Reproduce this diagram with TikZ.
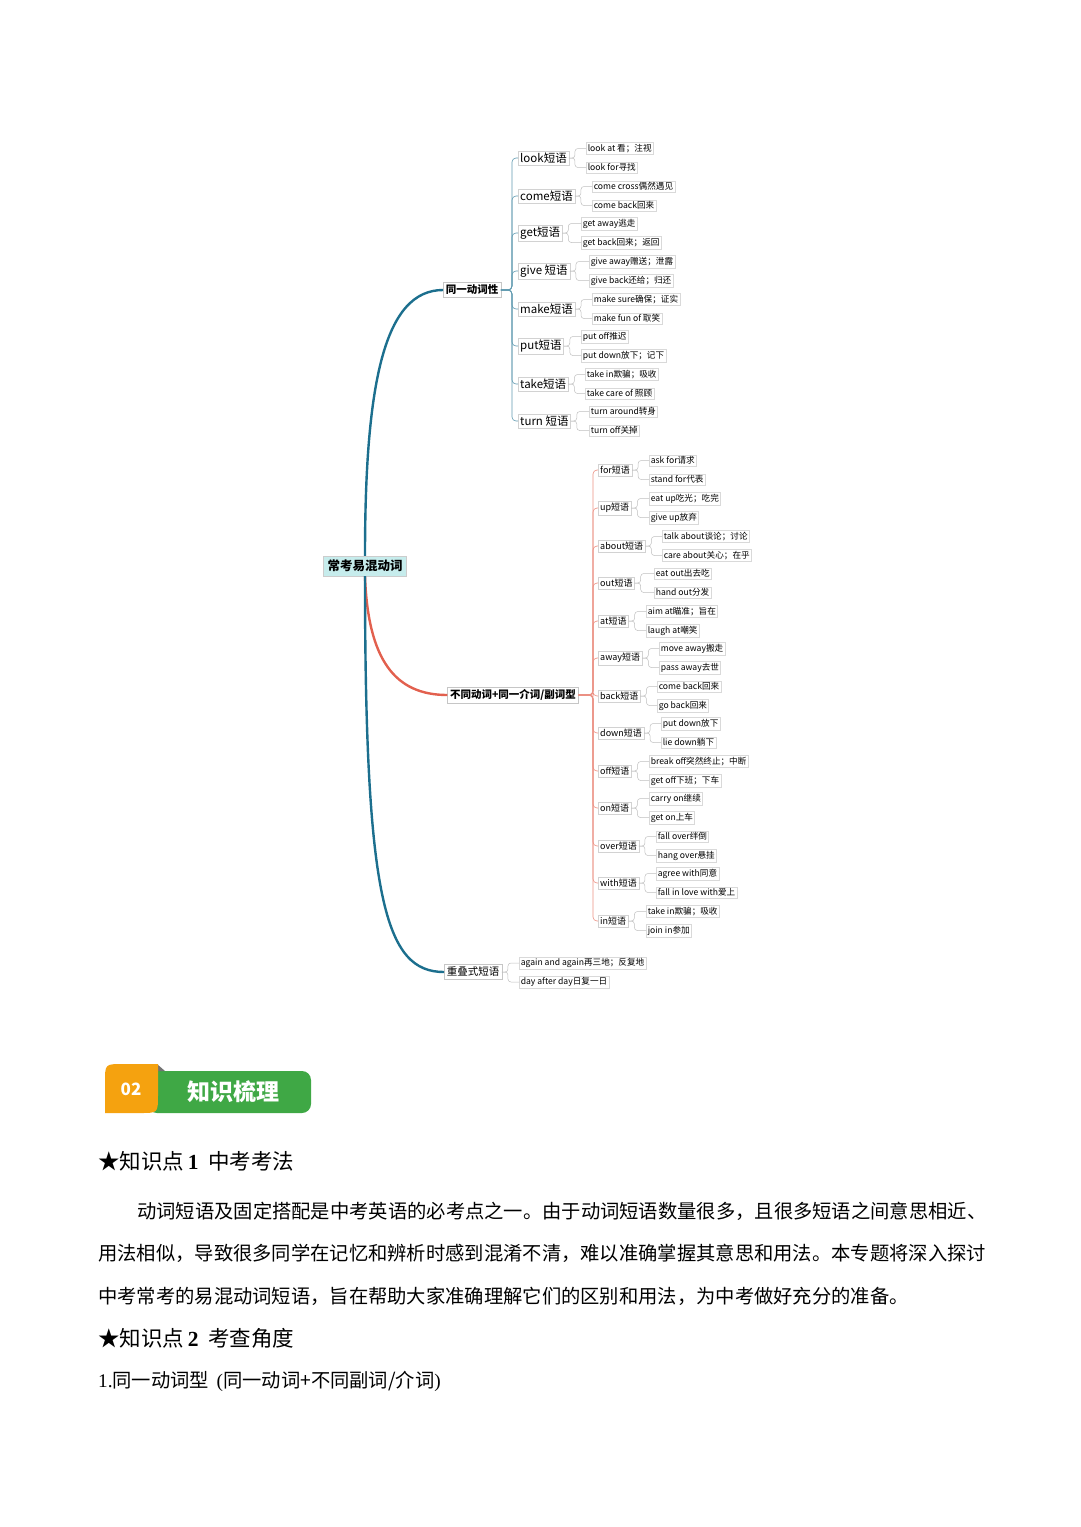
\documentclass[tikz,border=0pt]{standalone}
\usepackage{fontspec}
\setmainfont{Noto Sans CJK SC}
\newfontfamily\latinser{Liberation Serif}
\definecolor{teal1}{HTML}{1C6F8E}
\definecolor{red1}{HTML}{E2604E}
\definecolor{rootfill}{HTML}{C6ECEC}
\definecolor{orangeb}{HTML}{F5A20F}
\definecolor{greenb}{HTML}{3FA845}
\tikzset{
 childbox/.style={draw=gray!35,fill=white,inner sep=2pt,font=\fontsize{11.5}{12}\selectfont,anchor=west},
 childsm/.style={draw=gray!35,fill=white,inner sep=2pt,font=\fontsize{9}{10}\selectfont,anchor=west},
 leafbox/.style={draw=gray!30,fill=white,inner sep=1.6pt,font=\fontsize{8.6}{9}\selectfont,anchor=west},
 branchbox/.style={draw=gray!45,fill=white,inner sep=2.5pt,font=\bfseries\fontsize{10.5}{12}\selectfont},
 tline/.style={teal1!70,line width=0.6pt,rounded corners=4pt},
 rline/.style={red1!70,line width=0.6pt,rounded corners=4pt},
 gline/.style={gray!50,line width=0.5pt,rounded corners=3pt},
 bodytxt/.style={anchor=west,inner sep=0pt,font=\fontsize{19.3}{20}\selectfont}
}
\begin{document}
\begin{tikzpicture}[x=1pt,y=-1pt]
\useasboundingbox (0,0) rectangle (1080,1527);
% root and branches
\node[draw=gray!40,fill=rootfill,inner sep=4pt,font=\bfseries\fontsize{12.5}{14}\selectfont] (root) at (365,566) {常考易混动词};
\node[branchbox] (b1) at (472,290) {同一动词性};
\node[branchbox] (b2) at (513,695) {不同动词+同一介词/副词型};
\node[branchbox,font=\fontsize{10.5}{12}\selectfont] (b3) at (473,972) {重叠式短语};
\draw[teal1,line width=2.4pt] (root.north) .. controls (365,380) and (385,290) .. (b1.west);
\draw[red1,line width=2.4pt] (root.south) .. controls (368,660) and (395,695) .. (b2.west);
\draw[teal1,line width=2.4pt] (root.south) .. controls (365,900) and (385,972) .. (b3.west);
% branch 1
\foreach \i/\lab/\y/\lx/\a/\b in {
1/look短语/158/586/look at 看；注视/look for寻找,
2/come短语/196/592/come cross偶然遇见/come back回来,
3/get短语/233/581/get away逃走/get back回来；返回,
4/give 短语/271/589/give away赠送；泄露/give back还给；归还,
5/make短语/309/592/make sure确保；证实/make fun of 取笑,
6/put短语/346/581/put off推迟/put down放下；记下,
7/take短语/384/585/take in欺骗；吸收/take care of 照顾,
8/turn 短语/421/589/turn around转身/turn off关掉}{
 \node[childbox] (a\i) at (518,\y) {\lab};
 \draw[tline] (b1.east) -- (512,290) |- (a\i.west);
 \node[leafbox] (a\i x) at (\lx,{\y-9.5}) {\a};
 \node[leafbox] (a\i y) at (\lx,{\y+9.5}) {\b};
 \draw[gline] (a\i.east) -- ++(6,0) |- (a\i x.west);
 \draw[gline] (a\i.east) -- ++(6,0) |- (a\i y.west);
}
% branch 2
\foreach \i/\lab/\y/\lx/\a/\b in {
1/for短语/470/649/ask for请求/stand for代表,
2/up短语/508/649/eat up吃光；吃完/give up放弃,
3/about短语/546/662/talk about谈论；讨论/care about关心；在乎,
4/out短语/583/654/eat out出去吃/hand out分发,
5/at短语/621/646/aim at瞄准；旨在/laugh at嘲笑,
6/away短语/658/659/move away搬走/pass away去世,
7/back短语/696/657/come back回来/go back回来,
8/down短语/733/661/put down放下/lie down躺下,
9/off短语/771/649/break off突然终止；中断/get off下班；下车,
10/on短语/808/649/carry on继续/get on上车,
11/over短语/846/656/fall over绊倒/hang over悬挂,
12/with短语/883/656/agree with同意/fall in love with爱上,
13/in短语/921/646/take in欺骗；吸收/join in参加}{
 \node[childsm] (c\i) at (598,\y) {\lab};
 \draw[rline] (b2.east) -- (593,695) |- (c\i.west);
 \node[leafbox] (c\i x) at (\lx,{\y-9.5}) {\a};
 \node[leafbox] (c\i y) at (\lx,{\y+9.5}) {\b};
 \draw[gline] (c\i.east) -- ++(6,0) |- (c\i x.west);
 \draw[gline] (c\i.east) -- ++(6,0) |- (c\i y.west);
}
% branch 3
\node[leafbox] (d1) at (519,963) {again and again再三地；反复地};
\node[leafbox] (d2) at (519,982) {day after day日复一日};
\draw[gline] (b3.east) -- ++(6,0) |- (d1.west);
\draw[gline] (b3.east) -- ++(6,0) |- (d2.west);
% badge
\fill[greenb,rounded corners=9pt] (148,1071) rectangle (311,1113);
\fill[black!55] (157,1064) -- (165,1071) -- (157,1071) -- cycle;
\fill[orangeb] (105,1113) -- (105,1082) .. controls (105,1064) .. (123,1064) -- (158,1064) -- (158,1095) .. controls (158,1113) .. (140,1113) -- cycle;
\node[white,font=\bfseries\fontsize{17}{18}\selectfont] (n02) at (131,1089) {02};
\node[white,font=\bfseries\fontsize{23}{24}\selectfont] (ttl) at (233,1092) {知识梳理};
% text
\node[bodytxt,font=\fontsize{21.5}{22}\selectfont] (h1) at (98,1161) {★知识点\,{\latinser\bfseries 1}\ \ 中考考法};
\node[bodytxt] (p1) at (137,1211) {动词短语及固定搭配是中考英语的必考点之一。由于动词短语数量很多，且很多短语之间意思相近、};
\node[bodytxt] (p2) at (98,1253) {用法相似，导致很多同学在记忆和辨析时感到混淆不清，难以准确掌握其意思和用法。本专题将深入探讨};
\node[bodytxt] (p3) at (98,1296) {中考常考的易混动词短语，旨在帮助大家准确理解它们的区别和用法，为中考做好充分的准备。};
\node[bodytxt,font=\fontsize{21.5}{22}\selectfont] (h2) at (98,1338) {★知识点\,{\latinser\bfseries 2}\ \ 考查角度};
\node[bodytxt] (p4) at (98,1381) {{\latinser 1.}同一动词型\ \,{\latinser (}同一动词+不同副词/介词{\latinser )}};
\end{tikzpicture}
\end{document}
